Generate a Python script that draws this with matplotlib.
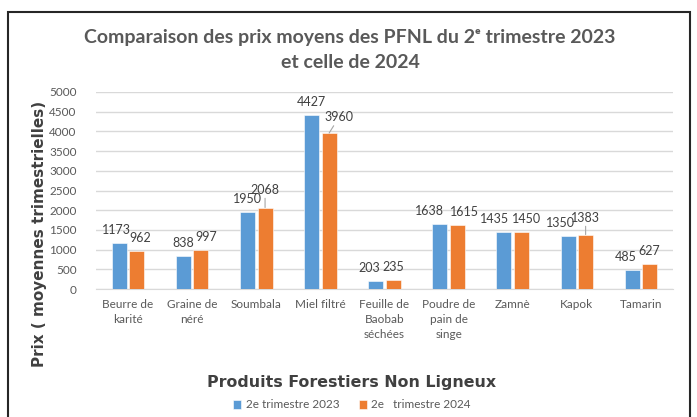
import matplotlib
matplotlib.use("Agg")
import matplotlib.pyplot as plt
from matplotlib.patches import Rectangle

categories = ["Beurre de\nkarité", "Graine de\nnéré", "Soumbala", "Miel filtré",
              "Feuille de\nBaobab\nséchées", "Poudre de\npain de\nsinge", "Zamnè", "Kapok", "Tamarin"]
s2023 = [1173, 838, 1950, 4427, 203, 1638, 1435, 1350, 485]
s2024 = [962, 997, 2068, 3960, 235, 1615, 1450, 1383, 627]
series_names = ["2e trimestre 2023", "2e   trimestre 2024"]
yticks = list(range(0, 5001, 500))

# label offsets in pixels (dx, dy) relative to default position above bar
off2023 = [(-3, 0), (0, 0), (0, 0), (0, 0), (-6, 0), (-10, 0), (-9, 0), (-8, 0), (-6, 0)]
off2024 = [(3, 0), (5, 0), (0, 5), (10, 3), (0, 0), (7, 0), (5, 0), (0, 4), (0, 0)]
leader2024 = [False, False, True, True, False, False, False, True, False]

blue = "#5B9BD5"
orange = "#ED7D31"
W, H = 697, 417
fig = plt.figure(figsize=(W / 100, H / 100), dpi=100)
plt.rcParams['font.family'] = ['Lato', 'DejaVu Sans']

# border
fig.patches.append(Rectangle((8 / W, -0.05), (690 - 8) / W, 1.05 - 12 / H,
                             transform=fig.transFigure, fill=False,
                             edgecolor="#262626", linewidth=1.5))

ax = fig.add_axes([96 / W, 1 - 289 / H, (673 - 96) / W, (289 - 92) / H])
x = list(range(len(categories)))
bw = 0.234
off = 0.137
ax.bar([i - off for i in x], s2023, width=bw, color=blue, edgecolor="white", linewidth=0.4,
       label=series_names[0], zorder=3)
ax.bar([i + off for i in x], s2024, width=bw, color=orange, edgecolor="white", linewidth=0.4,
       label=series_names[1], zorder=3)

ax.set_xlim(-0.5, len(categories) - 0.5)
ax.set_ylim(0, 5000)
ax.set_yticks(yticks)
ax.set_yticklabels([str(v) for v in yticks], fontsize=8.5, color="#595959")
ax.set_xticks(x)
ax.set_xticklabels(categories, fontsize=8.5, color="#595959", linespacing=1.45)
ax.tick_params(axis="both", length=0)
ax.tick_params(axis="y", pad=14)
ax.tick_params(axis="x", pad=7)
for s in ["top", "right", "left"]:
    ax.spines[s].set_visible(False)
ax.spines["bottom"].set_color("#d9d9d9")
ax.yaxis.grid(True, color="#d9d9d9", linewidth=1)
ax.set_axisbelow(True)

px = 0.72  # points per pixel
lab_kw = dict(fontsize=9, color="#404040", ha="center", va="bottom", textcoords="offset points")
for i, v in enumerate(s2023):
    dx, dy = off2023[i]
    ax.annotate(str(v), (i - off, v), xytext=(dx * px, (7 + dy) * px), **lab_kw)
for i, v in enumerate(s2024):
    dx, dy = off2024[i]
    if leader2024[i]:
        ax.annotate(str(v), (i + off, v), xytext=(dx * px, (7 + dy) * px),
                    arrowprops=dict(arrowstyle="-", color="#a6a6a6", lw=0.8,
                                    shrinkA=0, shrinkB=0), **lab_kw)
    else:
        ax.annotate(str(v), (i + off, v), xytext=(dx * px, (7 + dy) * px), **lab_kw)

fig.text(350 / W, 1 - 38 / H, "Comparaison des prix moyens des PFNL du 2ᵉ trimestre 2023",
         ha="center", va="center", fontsize=14, fontweight="bold", color="#595959")
fig.text(350 / W, 1 - 62 / H, "et celle de 2024",
         ha="center", va="center", fontsize=14, fontweight="bold", color="#595959")

fig.text(40 / W, 1 - 234 / H, "Prix ( moyennes trimestrielles)", rotation=90,
         ha="center", va="center", fontsize=11, fontweight="heavy", color="#404040",
         family=["DejaVu Sans"])
fig.text(352 / W, 1 - 383 / H, "Produits Forestiers Non Ligneux",
         ha="center", va="center", fontsize=11.4, fontweight="bold", color="#404040",
         family=["DejaVu Sans"])

fig.legend(loc="center", bbox_to_anchor=(352 / W, 1 - 405 / H), ncol=2, frameon=False,
           fontsize=8.5, handlelength=0.7, handleheight=0.7, handletextpad=0.4,
           columnspacing=1.6, labelcolor="#595959")

fig.savefig("out.png", dpi=100)
